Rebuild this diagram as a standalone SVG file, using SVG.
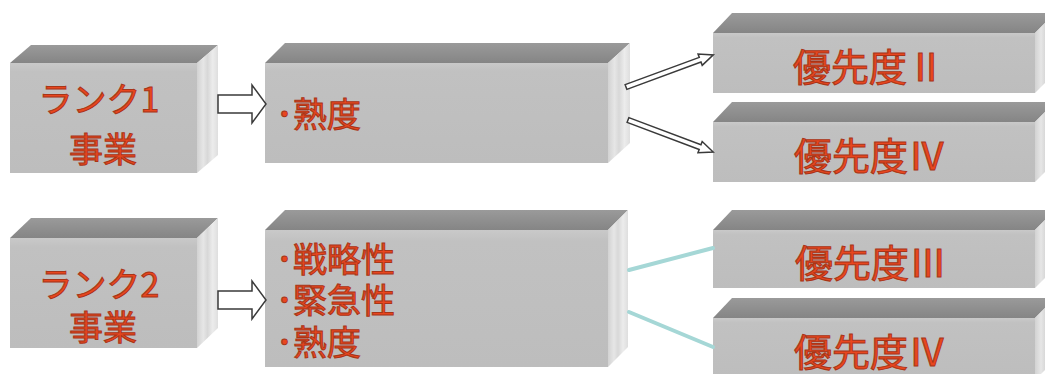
<svg xmlns="http://www.w3.org/2000/svg" width="1045" height="374" viewBox="0 0 1045 374">
  <defs>
    <linearGradient id="gTop" x1="0" y1="0" x2="0" y2="1">
      <stop offset="0" stop-color="#9a9a9a"/>
      <stop offset="1" stop-color="#858585"/>
    </linearGradient>
    <linearGradient id="gFront" x1="0" y1="0" x2="0" y2="1">
      <stop offset="0" stop-color="#c9c9c9"/>
      <stop offset="0.08" stop-color="#c1c1c1"/>
      <stop offset="1" stop-color="#bdbdbd"/>
    </linearGradient>
    <linearGradient id="gSide" x1="0" y1="0" x2="1" y2="0">
      <stop offset="0" stop-color="#d2d2d2"/>
      <stop offset="0.3" stop-color="#e6e6e6"/>
      <stop offset="0.5" stop-color="#d8d8d8"/>
      <stop offset="0.75" stop-color="#ececec"/>
      <stop offset="1" stop-color="#dedede"/>
    </linearGradient>
  </defs>
  <style>
    .top { fill: url(#gTop); }
    .front { fill: url(#gFront); }
    .side { fill: url(#gSide); }
    .lbl { font-family: "Noto Sans CJK JP", "Noto Sans CJK SC", sans-serif; fill: #e8461f; stroke: #a83518; stroke-width: 1; }
    .big { font-size: 38px; }
    .mid { font-size: 34px; }
    .list { font-size: 34px; }
    .harrow { fill: #ffffff; stroke: #3a3a3a; stroke-width: 1.5; stroke-linejoin: miter; }
    .cline { stroke: #a5d7d6; stroke-width: 4; fill: none; stroke-linecap: round; }
  </style>
  <rect width="1045" height="374" fill="#ffffff"/>

  <g id="node-rank1">
    <polygon class="top" points="10,63 31,45 218,45 197,63"/>
    <rect class="front" x="10" y="63" width="187" height="110"/>
    <polygon class="side" points="197,63 218,45 218,155 197,173"/>
    <text class="lbl mid" x="99" y="112" text-anchor="middle">ランク1</text>
    <text class="lbl mid" x="103" y="162" text-anchor="middle">事業</text>
  </g>

  <g id="node-criteria1">
    <polygon class="top" points="265,63 285,43 630,43 608,63"/>
    <rect class="front" x="265" y="63" width="343" height="100"/>
    <polygon class="side" points="608,63 630,43 630,143 608,163"/>
    <text class="lbl list" x="276" y="127">･熟度</text>
  </g>

  <g id="node-p2">
    <polygon class="top" points="713,33 732,13 1055,13 1035,33"/>
    <rect class="front" x="713" y="33" width="322" height="60"/>
    <polygon class="side" points="1035,33 1055,13 1055,73 1035,93"/>
    <text class="lbl big" x="869" y="81" text-anchor="middle">優先度Ⅱ</text>
  </g>

  <g id="node-p4a">
    <polygon class="top" points="713,122 732,102 1055,102 1035,122"/>
    <rect class="front" x="713" y="122" width="322" height="60"/>
    <polygon class="side" points="1035,122 1055,102 1055,162 1035,182"/>
    <text class="lbl big" x="870" y="170" text-anchor="middle">優先度Ⅳ</text>
  </g>

  <g id="node-rank2">
    <polygon class="top" points="10,238 31,218 218,218 197,238"/>
    <rect class="front" x="10" y="238" width="187" height="110"/>
    <polygon class="side" points="197,238 218,218 218,328 197,348"/>
    <text class="lbl mid" x="99" y="297" text-anchor="middle">ランク2</text>
    <text class="lbl mid" x="103" y="340" text-anchor="middle">事業</text>
  </g>

  <g id="node-criteria2">
    <polygon class="top" points="265,230 285,210 628,210 608,230"/>
    <rect class="front" x="265" y="230" width="343" height="137"/>
    <polygon class="side" points="608,230 628,210 628,347 608,367"/>
    <text class="lbl list" x="276" y="272">･戦略性</text>
    <text class="lbl list" x="276" y="313">･緊急性</text>
    <text class="lbl list" x="276" y="355">･熟度</text>
  </g>

  <g id="node-p3">
    <polygon class="top" points="713,230 732,210 1055,210 1035,230"/>
    <rect class="front" x="713" y="230" width="322" height="58"/>
    <polygon class="side" points="1035,230 1055,210 1055,268 1035,288"/>
    <text class="lbl big" x="871" y="277" text-anchor="middle">優先度Ⅲ</text>
  </g>

  <g id="node-p4b">
    <polygon class="top" points="713,318 732,298 1055,298 1035,318"/>
    <rect class="front" x="713" y="318" width="322" height="62"/>
    <polygon class="side" points="1035,318 1055,298 1055,360 1035,380"/>
    <text class="lbl big" x="870" y="366" text-anchor="middle">優先度Ⅳ</text>
  </g>

  <g id="connectors">
    <polygon class="harrow" points="218,95 252,95 252,85 266,104 252,123 252,113 218,113"/>
    <polygon class="harrow" points="218,291 252,291 252,281 266,300 252,319 252,309 218,309"/>
    <polygon class="harrow" transform="translate(626,87) rotate(-20.2)" points="0,-2.5 79,-2.5 79,-6 93,0 79,6 79,2.5 0,2.5"/>
    <polygon class="harrow" transform="translate(628,120) rotate(20.6)" points="0,-2.5 77,-2.5 77,-6 91,0 77,6 77,2.5 0,2.5"/>
    <line class="cline" x1="629" y1="270" x2="713" y2="248"/>
    <line class="cline" x1="629" y1="312" x2="713" y2="347"/>
  </g>
</svg>
